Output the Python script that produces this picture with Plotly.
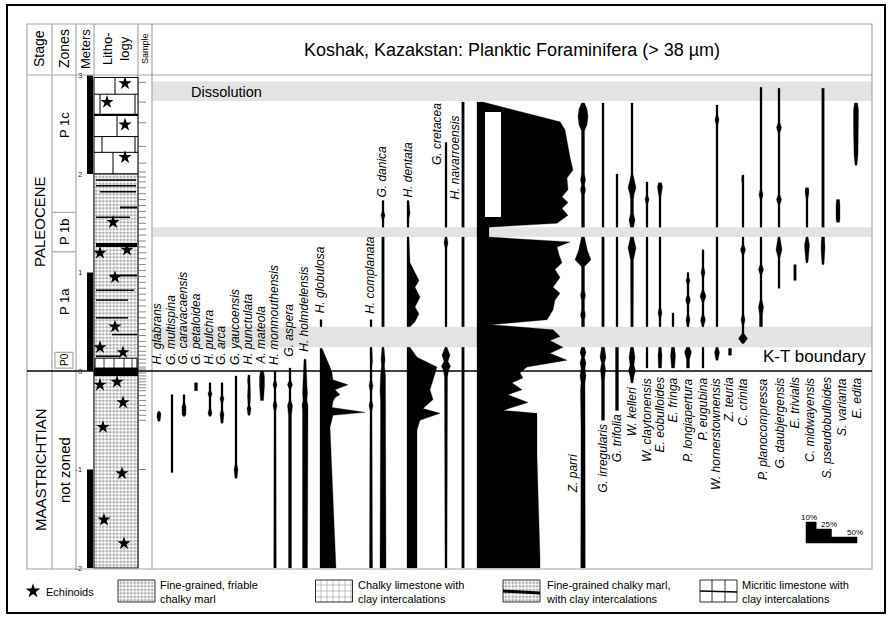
import plotly.graph_objects as go

# figure is drawn on one pair of axes: x in page pixels, y in meters (0 = K-T)
W, H = 892, 619
Y0 = 371          # pixel row of the K-T level
PX_PER_M = 98.5
FONT = "Liberation Sans, Arial, sans-serif"


def py(row):
    # pixel row -> meters (layout helper)
    return (Y0 - row) / PX_PER_M


# ---------------- data: depth (m) and relative abundance (%) ----------------
glabrans_m = [-0.41, -0.44, -0.47, -0.51]
glabrans_a = [2, 4, 4, 2]
multispina_m = [-0.24, -1.03]
multispina_a = [2, 2]
caravacaensis_m = [-0.24, -0.33, -0.36, -0.44, -0.46]
caravacaensis_a = [2, 2, 4, 4, 2]
petaloidea_m = [-0.12, -0.2]
petaloidea_a = [3, 3]
pulchra_m = [-0.12, -0.2, -0.23, -0.27, -0.38, -0.43, -0.46]
pulchra_a = [2, 2, 4, 2, 2, 4, 2]
arca_m = [-0.12, -0.25, -0.28, -0.32, -0.4, -0.44, -0.53]
arca_a = [2, 2, 4, 2, 2, 4, 2]
yaucoensis_m = [-0.05, -0.8, -0.85, -0.95, -1.0, -1.09]
yaucoensis_a = [2, 2, 3, 2, 4, 2]
punctulata_m = [-0.04, -0.1, -0.15, -0.25, -0.35, -0.38, -0.45]
punctulata_a = [2, 3, 2, 3, 2, 4, 2]
mateola_m = [0.0, -0.06, -0.15, -0.25, -0.3]
mateola_a = [3, 5, 5, 4, 3]
monmouthensis_m = [0.0, -0.1, -0.14, -0.18, -0.3, -0.35, -0.4, -2.0]
monmouthensis_a = [2, 2, 4, 2, 2, 4, 2, 2.5]
aspera_m = [0.03, -0.1, -0.14, -0.18, -0.3, -0.35, -0.45, -2.0]
aspera_a = [2, 2, 5, 2, 2, 5, 3, 3]
holmdelensis_m = [0.12, 0.0, -0.15, -0.22, -0.3, -0.35, -0.4, -2.0]
holmdelensis_a = [2, 3, 4, 5, 4, 6, 5, 5]
globulosa_m = [0.52, 0.45, None, 0.23, 0.11, 0.04, -0.02, -0.09, -0.14, -0.19,
               -0.24, -0.27, -0.31, -0.37, -0.42, -0.45, -0.57, -2.0]
globulosa_a = [2, 2, None, 2, 7, 10, 12, 13, 28, 15, 20, 15, 13, 12, 45, 13, 10, 16]
complanata_m = [0.52, 0.45, None, 0.24, 0.1, 0.05, -0.1, -0.15, -0.2, -0.3, -0.35, -0.4, -2.0]
complanata_a = [2, 2, None, 2, 3, 2, 2, 4, 2, 2, 4, 2, 3]
danica_m = [1.73, 1.62, 1.58, 1.54, 1.46, None, 1.36, 0.45, None,
            0.24, 0.12, 0.05, -0.05, -0.2, -0.3, -0.5, -2.0]
danica_a = [2, 2, 4, 2, 2, None, 2.5, 2.5, None, 2, 4, 3, 5, 6, 5, 5, 6]
dentata_m = [1.73, 1.6, 1.55, 1.46, None, 1.36, 1.1, 1.0, 0.92, 0.85, 0.75, 0.65,
             0.58, 0.5, 0.45, None, 0.24, 0.14, 0.04, -0.04, -0.12, -0.19, -0.29,
             -0.38, -0.43, -0.5, -0.6, -2.0]
dentata_a = [2, 3, 2, 2, None, 2, 3, 8, 12, 8, 13, 8, 12, 8, 3, None,
             3, 10, 30, 28, 25, 23, 26, 16, 33, 13, 10, 10]
cretacea_m = [2.32, 1.46, None, 1.36, 1.3, 1.25, 1.2, 0.45, None,
              0.24, 0.16, 0.1, 0.05, 0.0, -0.06, -2.0]
cretacea_a = [2, 2, None, 2, 4, 2, 2, 2, None, 2, 8, 4, 9, 5, 3, 2]
navarroensis_m = [2.73, 1.46, None, 1.36, 0.45, None, 0.24, -2.0]
navarroensis_a = [2.5, 2.5, None, 2.5, 2.5, None, 2.5, 2.5]
bloom_m = [2.73, 2.53, 2.45, 2.17, 2.04, 1.96, 1.84, 1.77, 1.71, 1.65, 1.58, 1.50,
           1.46, 1.36, 1.31, 1.26, 1.18, 1.10, 1.03, 0.95, 0.85, 0.79, 0.72, 0.62,
           0.52, 0.47, 0.42, 0.35, 0.31, 0.24, 0.18, 0.11, 0.04, -0.02, -0.07,
           -0.12, -0.19, -0.24, -0.32, -0.40, -0.43, -0.50, -0.87, -1.89, -2.0]
bloom_a = [6, 83, 88, 93, 96, 90, 91, 85, 91, 85, 91, 80,
           12, 12, 93, 80, 82, 85, 78, 83, 76, 83, 78, 76,
           70, 14, 76, 83, 73, 86, 73, 90, 50, 43, 46,
           35, 45, 31, 51, 26, 60, 60, 60, 63, 63]
parri_m = [2.72, 2.66, 2.58, 2.5, 2.44, 2.0, 1.94, 1.89, 1.84, 1.79, 1.46, None,
           1.36, 1.3, 1.22, 1.13, 1.06, 0.82, 0.77, 0.72, 0.62, 0.57, 0.52, 0.45, None,
           0.24, 0.19, 0.14, 0.08, 0.03, -0.05, -0.12, -0.2, -0.6, -2.0]
parri_a = [3, 8, 10, 8, 3, 3, 5, 3, 5, 3, 3, None,
           3, 6, 9, 16, 3, 3, 5, 3, 3, 5, 3, 3, None,
           3, 6, 3, 6, 4, 6, 4, 5, 4, 4.5]
irregularis_m = [2.72, 2.2, 2.15, 2.1, 1.46, None, 1.36, 0.45, None,
                 0.24, 0.14, 0.08, 0.02, -0.1, -0.5]
irregularis_a = [2, 2, 3, 2, 2, None, 2.5, 2.5, None, 3, 6, 3, 5, 3, 3]
trifolia_m = [2.0, 1.46, None, 1.36, 0.45, None, 0.24, -0.4]
trifolia_a = [2, 2, None, 2, 2, None, 3, 3]
kelleri_m = [2.72, 2.0, 1.94, 1.86, 1.79, 1.74, 1.6, 1.53, 1.46, None,
             1.36, 1.31, 1.25, 1.18, 1.13, 0.45, None, 0.24, 0.14, 0.06, 0.0, -0.05, -0.12]
kelleri_a = [2, 2, 4, 8, 4, 3, 3, 6, 3, None, 3, 5, 8, 5, 3, 2.5, None, 3, 6, 4, 7, 4, 2]
claytonensis_m = [1.92, 1.78, 1.74, 1.7, 1.46, None, 1.36, 0.45, None, 0.24, 0.03]
claytonensis_a = [2, 2, 4, 2, 2, None, 2, 2, None, 2, 2]
eobulloides_m = [1.91, 1.87, 1.82, 1.77, 1.46, None, 1.36, 0.64, 0.59, 0.54, 0.45, None,
                 0.24, 0.16, 0.03]
eobulloides_a = [3, 5, 4, 2, 2, None, 2, 2, 4, 2, 2, None, 2.5, 4, 3]
fringa_m = [0.59, 0.45, None, 0.24, 0.16, 0.1, 0.03]
fringa_a = [2, 2, None, 3, 5, 4, 3]
longiapertura_m = [1.0, 0.95, 0.92, 0.88, 0.77, 0.72, 0.67, 0.57, 0.52, 0.47, 0.45, None,
                   0.24, 0.19, 0.12, 0.03]
longiapertura_a = [2, 2, 4, 2, 2, 5, 2, 2, 4, 2, 2, None, 3, 7, 3, 3]
eugubina_m = [1.23, 1.05, 1.0, 0.95, 0.82, 0.76, 0.7, 0.57, 0.52, 0.47, 0.45, None, 0.24, 0.03]
eugubina_a = [2, 2, 4, 2, 2, 6, 2, 2, 5, 2, 2, None, 2, 2]
hornerstownensis_m = [2.7, 2.6, 2.55, 2.5, 1.46, None, 1.36, 0.45, None, 0.24, 0.19, 0.11]
hornerstownensis_a = [2, 2, 4, 2, 2, None, 2, 2, None, 2, 5, 2]
teuria_m = [0.23, 0.16]
teuria_a = [3, 3]
crinita_m = [1.99, 1.95, 1.9, 1.46, None, 1.36, 1.28, 1.23, 1.18, 0.57, 0.52, 0.47,
             0.38, 0.33, 0.28]
crinita_a = [2, 3, 2, 2, None, 2, 2, 5, 2, 2, 4, 2, 2, 9, 2]
planocompressa_m = [2.88, 1.84, 1.79, 1.74, 1.46, None, 1.36, 1.08, 1.03, 0.98, 0.72,
                    0.65, 0.57, 0.45]
planocompressa_a = [2, 2, 4, 2, 2, None, 2, 2, 5, 2, 2, 5, 3, 3]
daubjergensis_m = [2.87, 2.52, 2.47, 2.42, 1.79, 1.74, 1.69, 1.46, None,
                   1.36, 1.3, 1.23, 1.15, 0.84]
daubjergensis_a = [2, 2, 5, 2, 2, 5, 2, 2, None, 2, 4, 6, 2, 2]
trivialis_m = [1.08, 0.92]
trivialis_a = [2.5, 2.5]
midwayensis_m = [1.86, 1.82, 1.75, 1.46, None, 1.36, 1.28, 1.2, 1.1]
midwayensis_a = [3, 4, 2, 2, None, 2, 5, 4, 2]
pseudobulloides_m = [2.87, 1.46, None, 1.36, 1.25, 1.15, 1.08]
pseudobulloides_a = [2.5, 2.5, None, 3, 4, 3, 2]
varianta_m = [1.74, 1.68, 1.55, 1.51]
varianta_a = [3, 4, 4, 3]
edita_m = [2.72, 2.65, 2.45, 2.2, 2.09]
edita_a = [3, 5, 5, 4, 2]

species = ["H. glabrans", "G. multispina", "G. caravacaensis", "G. petaloidea",
           "H. pulchra", "G. arca", "G. yaucoensis", "H. punctulata", "A. mateola",
           "H. monmouthensis", "G. aspera", "H. holmdelensis", "H. globulosa",
           "H. complanata", "G. danica", "H. dentata", "G. cretacea",
           "H. navarroensis", "", "Z. parri", "G. irregularis", "G. trifolia",
           "W. kelleri", "W. claytonensis", "E. eobulloides", "E. fringa",
           "P. longiapertura", "P. eugubina", "W. hornerstownensis", "Z. teuria",
           "C. crinita", "P. planocompressa", "G. daubjergensis", "E. trivialis",
           "C. midwayensis", "S. pseudobulloides", "S. varianta", "E. edita"]
depths = [glabrans_m, multispina_m, caravacaensis_m, petaloidea_m, pulchra_m, arca_m,
          yaucoensis_m, punctulata_m, mateola_m, monmouthensis_m, aspera_m,
          holmdelensis_m, globulosa_m, complanata_m, danica_m, dentata_m, cretacea_m,
          navarroensis_m, bloom_m, parri_m, irregularis_m, trifolia_m, kelleri_m,
          claytonensis_m, eobulloides_m, fringa_m, longiapertura_m, eugubina_m,
          hornerstownensis_m, teuria_m, crinita_m, planocompressa_m,
          daubjergensis_m, trivialis_m, midwayensis_m, pseudobulloides_m,
          varianta_m, edita_m]
abund = [glabrans_a, multispina_a, caravacaensis_a, petaloidea_a, pulchra_a, arca_a,
         yaucoensis_a, punctulata_a, mateola_a, monmouthensis_a, aspera_a,
         holmdelensis_a, globulosa_a, complanata_a, danica_a, dentata_a, cretacea_a,
         navarroensis_a, bloom_a, parri_a, irregularis_a, trifolia_a, kelleri_a,
         claytonensis_a, eobulloides_a, fringa_a, longiapertura_a, eugubina_a,
         hornerstownensis_a, teuria_a, crinita_a, planocompressa_a,
         daubjergensis_a, trivialis_a, midwayensis_a, pseudobulloides_a,
         varianta_a, edita_a]

# lithology / section data
sample_m = [2.93, 2.73, 2.52, 2.28, 2.11, 2.02, 1.97, 1.92, 1.86, 1.8, 1.74, 1.68,
            1.62, 1.56, 1.5, 1.44, 1.38, 1.32, 1.26, 1.2, 1.14, 1.08, 1.02, 0.96,
            0.9, 0.84, 0.78, 0.72, 0.66, 0.6, 0.54, 0.48, 0.42, 0.36, 0.3, 0.25,
            0.2, 0.16, 0.12, 0.08, 0.04, 0.02, -0.02, -0.05, -0.08, -0.11, -0.14,
            -0.17, -0.2, -0.25, -0.3, -0.35, -0.4, -0.45, -0.5, -1.0]
echinoid_m = [2.92, 2.73, 2.50, 2.17, 1.51, 1.20, 1.23, 0.95, 0.45, 0.24, 0.19,
              -0.14, -0.11, -0.32, -0.57, -1.04, -1.51, -1.75]
echinoid_x = [125, 107, 125, 125, 113, 100, 127, 115, 115, 100, 123,
              100, 117, 123, 103, 122, 104, 124]
micrite_beds = [2.98, 2.81, 2.6, 2.38, 2.22, 2.0]
clay_m = [1.94, 1.88, 1.82, 1.66, 1.56, 1.28, 0.97, 0.82, 0.72, 0.54, 0.37, 0.15]
marl_base, marl_top = -2.0, 2.0
meter_ticks = [3, 2, 1, 0, -1, -2]
black_meters = [(2, 3), (0, 1), (-2, -1)]
scale_pct = [10, 25, 50]

# ---------------- layout lists (positions, px) ----------------
col_x = [159, 172, 184, 196, 210, 222, 236, 249, 262, 275, 290, 305, 320,
         371, 383, 407, 446, 463, 477, 583, 603, 617, 632, 647, 660, 673,
         688, 703, 717, 730, 743, 761, 779, 795, 807, 823, 838, 856]
left_aligned = {"H. globulosa", "H. dentata", ""}
label_x = [157, 171, 183, 196, 209, 221, 235, 248, 261, 274, 289, 304, 320,
           370, 382, 408, 437, 455, None, 573, 603, 617, 632, 647, 660, 673,
           688, 703, 716, 729, 743, 763, 780, 795, 810, 827, 842, 857]
label_m = [0.04] * 10 + [0.12, 0.17, 0.56, 0.56, 1.74, 1.74, 2.07, 1.72, None,
                         -0.83, -0.52, -0.42, -0.15] + [-0.05] * 15

fig = go.Figure()

bands = [(2.74, 2.94), (1.36, 1.46), (0.24, 0.45)]
shapes = []
for b0, b1 in bands:
    shapes.append(dict(type="rect", xref="x", yref="y", x0=152, x1=872, y0=b0, y1=b1,
                       fillcolor="#e3e3e3", line_width=0, layer="below"))

# frame and column grid
grey = "#a8a8a8"
shapes += [
    dict(type="rect", xref="x", yref="y", x0=7, x1=885, y0=py(613), y1=py(5),
         line=dict(color="black", width=2)),
    dict(type="rect", xref="x", yref="y", x0=27, x1=872, y0=py(569), y1=py(24),
         line=dict(color=grey, width=1.2)),
    dict(type="line", xref="x", yref="y", x0=27, x1=872, y0=py(75), y1=py(75),
         line=dict(color=grey, width=1.2)),
]
for cx in [52, 76, 94, 138, 152]:
    shapes.append(dict(type="line", xref="x", yref="y", x0=cx, x1=cx, y0=py(569),
                       y1=py(24), line=dict(color=grey, width=1.2), layer="below"))
for zb in [1.61, 1.21]:
    shapes.append(dict(type="line", xref="x", yref="y", x0=52, x1=76, y0=zb, y1=zb,
                       line=dict(color=grey, width=1.2)))
shapes.append(dict(type="rect", xref="x", yref="y", x0=55, x1=73, y0=0.03, y1=0.19,
                   line=dict(color=grey, width=1.2)))

# meter bar
for m0, m1 in black_meters:
    shapes.append(dict(type="rect", xref="x", yref="y", x0=87, x1=93, y0=m0, y1=m1,
                       fillcolor="black", line_width=0))

# micritic limestone beds (below the echinoid markers)
shapes.append(dict(type="rect", xref="x", yref="y", x0=94, x1=138, y0=micrite_beds[-1],
                   y1=micrite_beds[0], fillcolor="white", layer="below",
                   line=dict(color="black", width=1)))
joints = [[115], [100, 135], [117], [102, 135], [113]]
for i, b in enumerate(micrite_beds[1:-1]):
    shapes.append(dict(type="line", xref="x", yref="y", x0=94, x1=138, y0=b, y1=b,
                       layer="below",
                       line=dict(color="black", width=2.2 if i == 1 else 1)))
for i, js in enumerate(joints):
    for j in js:
        shapes.append(dict(type="line", xref="x", yref="y", x0=j, x1=j, layer="below",
                           y0=micrite_beds[i + 1], y1=micrite_beds[i],
                           line=dict(color="black", width=1)))

# marl (dotted) column
fig.add_trace(go.Bar(x=[116], y=[marl_top - marl_base], base=[marl_base], width=[44],
                     marker=dict(color="white", line=dict(color="black", width=1),
                                 pattern=dict(shape=".", fgcolor="#555", size=3.5,
                                              solidity=0.5)),
                     hoverinfo="skip", showlegend=False))
# chalky limestone just above K-T
shapes.append(dict(type="rect", xref="x", yref="y", x0=95, x1=137, y0=0.03, y1=0.13,
                   fillcolor="white", line=dict(color="black", width=1)))
for j in [104, 114, 124, 132]:
    shapes.append(dict(type="line", xref="x", yref="y", x0=j, x1=j, y0=0.03, y1=0.13,
                       line=dict(color="black", width=0.8)))
shapes.append(dict(type="rect", xref="x", yref="y", x0=94, x1=138, y0=-0.05, y1=0.03,
                   fillcolor="black", line_width=0))

# clay intercalations
clay_x0 = [96, 96, 100, 120, 96, 96, 110, 96, 96, 96, 112, 96]
clay_x1 = [136, 136, 136, 137, 130, 137, 137, 134, 128, 128, 137, 120]
clay_w = [1.5, 1.5, 1.5, 2, 1.5, 4, 2, 1.5, 1.5, 1.5, 1.5, 1.5]
for m, a, b, w in zip(clay_m, clay_x0, clay_x1, clay_w):
    shapes.append(dict(type="line", xref="x", yref="y", x0=a, x1=b, y0=m, y1=m,
                       line=dict(color="black", width=w)))

# samples
for s in sample_m:
    shapes.append(dict(type="line", xref="x", yref="y", x0=139, x1=146, y0=s, y1=s,
                       line=dict(color="#888", width=1)))

# K-T boundary
shapes.append(dict(type="line", xref="x", yref="y", x0=27, x1=872, y0=0, y1=0,
                   line=dict(color="black", width=1.6)))
# blank box inside the large column
shapes.append(dict(type="rect", xref="x", yref="y", x0=485, x1=501, y0=py(217),
                   y1=py(112), fillcolor="white", line_width=0, layer="above"))

# species columns
for name, x0, dm, ab in zip(species, col_x, depths, abund):
    xs, ys, seg = [], [], []
    for d, a in list(zip(dm, ab)) + [(None, None)]:
        if d is None:
            if seg:
                if name in left_aligned:
                    left = [x0 for _ in seg]
                    right = [x0 + v for _, v in seg]
                else:
                    left = [x0 - v / 2 for _, v in seg]
                    right = [x0 + v / 2 for _, v in seg]
                dd = [p for p, _ in seg]
                xs += left + right[::-1] + [left[0], None]
                ys += dd + dd[::-1] + [dd[0], None]
            seg = []
        else:
            seg.append((d, a))
    fig.add_trace(go.Scatter(x=xs, y=ys, mode="lines", fill="toself",
                             fillcolor="black", line=dict(color="black", width=0.3),
                             hoverinfo="skip", showlegend=False))

# echinoids
fig.add_trace(go.Scatter(x=echinoid_x, y=echinoid_m, mode="markers",
                         marker=dict(symbol="star", size=10, color="black"),
                         hoverinfo="skip", showlegend=False))

# scale bar
sx = 806
tops = [py(522), py(529), py(537)]
edges = [sx + p * 1.02 for p in scale_pct]
sxs = [sx, sx, edges[0], edges[0], edges[1], edges[1], edges[2], edges[2], sx]
sys_ = [py(543), tops[0], tops[0], tops[1], tops[1], tops[2], tops[2], py(543), py(543)]
fig.add_trace(go.Scatter(x=sxs, y=sys_, mode="lines", fill="toself", fillcolor="black",
                         line=dict(color="black", width=0.5), hoverinfo="skip",
                         showlegend=False))

ann = []
for name, lx, lm in zip(species, label_x, label_m):
    if not name:
        continue
    ann.append(dict(x=lx, y=lm, xref="x", yref="y", text="<i>%s</i>" % name,
                    textangle=-90, showarrow=False, xanchor="center",
                    yanchor="bottom" if lm > -0.04 else "top",
                    font=dict(family=FONT, size=12, color="black")))
for t, x, row in zip(["10%", "25%", "50%"], [809, 829, 855], [517, 524, 532]):
    ann.append(dict(x=x, y=py(row), xref="x", yref="y", text=t, showarrow=False,
                    font=dict(family=FONT, size=8, color="black")))

for m in meter_ticks:
    ann.append(dict(x=85, y=m, xref="x", yref="y", text=str(m), showarrow=False,
                    xanchor="right", font=dict(family=FONT, size=8, color="#333")))

for t, x, size in [("Stage", 39, 14), ("Zones", 64, 14), ("Meters", 85, 13),
                   ("Litho-<br>logy", 116, 13), ("Sample", 145, 9)]:
    ann.append(dict(x=x, y=py(49), xref="x", yref="y", text=t, textangle=-90,
                    showarrow=False, font=dict(family=FONT, size=size, color="black")))
for t, x, row, size in [("PALEOCENE", 39, 222, 15), ("MAASTRICHTIAN", 40, 470, 15),
                        ("P 1c", 64, 125, 13), ("P 1b", 64, 232, 13),
                        ("P 1a", 64, 302, 13), ("P0", 64, 360, 10),
                        ("not zoned", 64, 470, 15)]:
    ann.append(dict(x=x, y=py(row), xref="x", yref="y", text=t, textangle=-90,
                    showarrow=False, font=dict(family=FONT, size=size, color="black")))

ann.append(dict(x=512, y=py(50), xref="x", yref="y",
                text="Koshak, Kazakstan: Planktic Foraminifera (> 38 µm)",
                showarrow=False, font=dict(family=FONT, size=18, color="black")))
ann.append(dict(x=226, y=py(92), xref="x", yref="y", text="Dissolution",
                showarrow=False, font=dict(family=FONT, size=14.5, color="black")))
ann.append(dict(x=868, y=py(356), xref="x", yref="y", text="K-T boundary",
                xanchor="right", showarrow=False,
                font=dict(family=FONT, size=17, color="black")))

# legend
leg_y0, leg_y1 = py(602), py(580)
for lx, shape, fg, sz, sol in [(136.5, ".", "#555", 3.5, 0.5), (334, "+", "black", 6, 0.15),
                               (521.5, ".", "#555", 3.5, 0.5)]:
    fig.add_trace(go.Bar(x=[lx], y=[leg_y1 - leg_y0], base=[leg_y0], width=[37],
                         marker=dict(color="white", line=dict(color="black", width=0.8),
                                     pattern=dict(shape=shape, fgcolor=fg, size=sz,
                                                  solidity=sol)),
                         hoverinfo="skip", showlegend=False))
shapes.append(dict(type="line", xref="x", yref="y", x0=503, x1=540, y0=py(591),
                   y1=py(593), line=dict(color="black", width=3)))
shapes.append(dict(type="rect", xref="x", yref="y", x0=700, x1=737, y0=leg_y0,
                   y1=leg_y1, fillcolor="white", line=dict(color="black", width=0.8)))
for j in [712, 725]:
    shapes.append(dict(type="line", xref="x", yref="y", x0=j, x1=j, y0=leg_y0,
                       y1=leg_y1, line=dict(color="black", width=0.8)))
shapes.append(dict(type="line", xref="x", yref="y", x0=700, x1=737, y0=py(591),
                   y1=py(592), line=dict(color="black", width=1.5)))
fig.add_trace(go.Scatter(x=[33], y=[py(591)], mode="markers",
                         marker=dict(symbol="star", size=11, color="black"),
                         hoverinfo="skip", showlegend=False))
for t, x in [("Echinoids", 44), ("Fine-grained, friable<br>chalky marl", 158),
             ("Chalky limestone with<br>clay intercalations", 356),
             ("Fine-grained chalky marl,<br>with clay intercalations", 544),
             ("Micritic limestone with<br>clay intercalations", 740)]:
    ann.append(dict(x=x, y=py(592), xref="x", yref="y", text=t, xanchor="left",
                    align="left", showarrow=False,
                    font=dict(family=FONT, size=11, color="black")))

fig.update_layout(
    width=W, height=H, margin=dict(l=0, r=0, t=0, b=0),
    paper_bgcolor="white", plot_bgcolor="white", barmode="overlay",
    xaxis=dict(range=[0, W], visible=False, fixedrange=True),
    yaxis=dict(range=[py(H), py(0)], visible=False, fixedrange=True),
    shapes=shapes, annotations=ann, showlegend=False,
)
# the page body has a default 8px margin; drop it so the figure sits at the page corner
fig.write_html("out.html", config={"displayModeBar": False},
               post_script="document.body.style.margin='0px';")
